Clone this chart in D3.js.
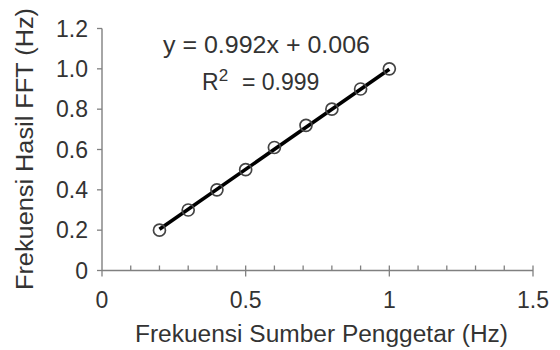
<!DOCTYPE html>
<html>
<head>
<meta charset="utf-8">
<script src="https://cdn.jsdelivr.net/npm/d3@7"></script>
<style>
body{margin:0;background:#fff;}
text{font-family:"Liberation Sans",Arial,sans-serif;fill:#333;}
</style>
</head>
<body>
<div id="svgContainer"></div>
<script>
var svgWidth = 560, svgHeight = 350;
// data
var xVals = [0.2, 0.3, 0.4, 0.5, 0.6, 0.71, 0.8, 0.9, 1.0];
var yVals = [0.2, 0.3, 0.4, 0.5, 0.61, 0.72, 0.8, 0.9, 1.0];
var slope = 0.992, intercept = 0.006;
var xTicks = [0, 0.5, 1, 1.5];
var xTickLabels = ["0", "0.5", "1", "1.5"];
var xMinor = [0.1,0.2,0.3,0.4,0.6,0.7,0.8,0.9,1.1,1.2,1.3,1.4];
var yTicks = [0, 0.2, 0.4, 0.6, 0.8, 1.0, 1.2];
var yTickLabels = ["0", "0.2", "0.4", "0.6", "0.8", "1.0", "1.2"];

var svg = d3.select("#svgContainer").append("svg")
    .attr("width", svgWidth).attr("height", svgHeight);

var x = d3.scaleLinear().domain([0, 1.5]).range([102, 533]);
var y = d3.scaleLinear().domain([0, 1.2]).range([270.5, 28.5]);
var axisColor = "#808080";
var fs = 23;

// x axis
var gx = svg.append("g").attr("id", "xaxis");
gx.append("line").attr("x1", x(0)).attr("x2", x(1.5)).attr("y1", y(0)).attr("y2", y(0))
    .attr("stroke", axisColor).attr("stroke-width", 1.4);
gx.selectAll(".minor").data(xMinor).enter().append("line")
    .attr("x1", d => x(d)).attr("x2", d => x(d))
    .attr("y1", y(0)).attr("y2", y(0) - 5)
    .attr("stroke", axisColor).attr("stroke-width", 1.3);
gx.selectAll(".major").data(xTicks).enter().append("line")
    .attr("x1", d => x(d)).attr("x2", d => x(d))
    .attr("y1", d => d == 0 ? y(0) : y(0) - 5).attr("y2", y(0) + 6)
    .attr("stroke", axisColor).attr("stroke-width", 1.3);
gx.selectAll(".lbl").data(xTicks).enter().append("text")
    .attr("x", d => x(d)).attr("y", 308)
    .attr("text-anchor", "middle").attr("font-size", fs)
    .text((d, i) => xTickLabels[i]);

// y axis
var gy = svg.append("g").attr("id", "yaxis");
gy.append("line").attr("x1", x(0)).attr("x2", x(0)).attr("y1", y(0)).attr("y2", y(1.2))
    .attr("stroke", axisColor).attr("stroke-width", 1.4);
gy.selectAll(".major").data(yTicks).enter().append("line")
    .attr("x1", x(0) - 5).attr("x2", x(0))
    .attr("y1", d => y(d)).attr("y2", d => y(d))
    .attr("stroke", axisColor).attr("stroke-width", 1.3);
gy.selectAll(".lbl").data(yTicks).enter().append("text")
    .attr("x", 88).attr("y", d => y(d) + 8.2)
    .attr("text-anchor", "end").attr("font-size", fs)
    .text((d, i) => yTickLabels[i]);

// trend line
svg.append("line")
    .attr("x1", x(0.2)).attr("y1", y(slope * 0.2 + intercept))
    .attr("x2", x(1.0)).attr("y2", y(slope * 1.0 + intercept))
    .attr("stroke", "#000").attr("stroke-width", 3.6);

// markers
svg.selectAll("circle").data(xVals).enter().append("circle")
    .attr("cx", d => x(d)).attr("cy", (d, i) => y(yVals[i]))
    .attr("r", 6).attr("fill", "none")
    .attr("stroke", "#444").attr("stroke-width", 1.7);

// equation
svg.append("text").attr("x", 163).attr("y", 53)
    .attr("font-size", fs)
    .attr("textLength", 207).attr("lengthAdjust", "spacingAndGlyphs")
    .text("y = 0.992x + 0.006");
var r2 = svg.append("text").attr("x", 202).attr("y", 90)
    .attr("font-size", fs);
r2.append("tspan").text("R");
r2.append("tspan").attr("dy", -9).attr("font-size", 17).text("2");
r2.append("tspan").attr("dy", 9).attr("x", 242).text("= 0.999");

// axis titles
svg.append("text").attr("x", 135).attr("y", 342)
    .attr("font-size", fs)
    .attr("textLength", 373).attr("lengthAdjust", "spacingAndGlyphs")
    .text("Frekuensi Sumber Penggetar (Hz)");
svg.append("text")
    .attr("transform", "translate(33,290) rotate(-90)")
    .attr("font-size", fs)
    .attr("textLength", 282).attr("lengthAdjust", "spacingAndGlyphs")
    .text("Frekuensi Hasil FFT (Hz)");
</script>
</body>
</html>
